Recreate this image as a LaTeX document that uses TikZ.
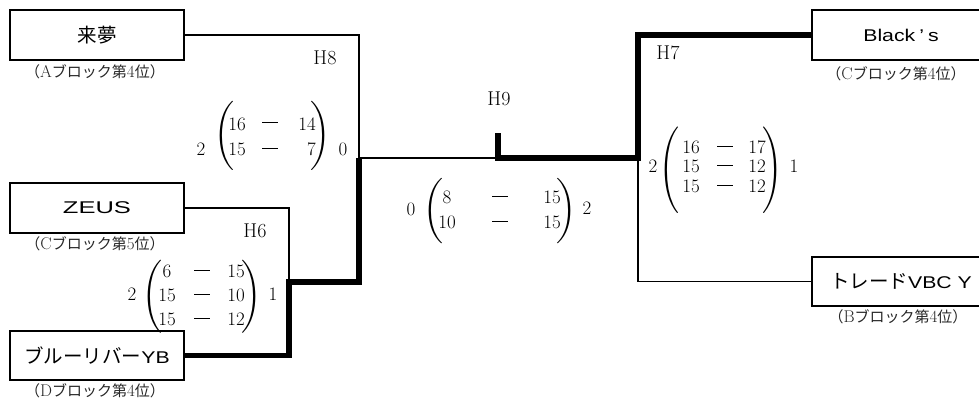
\documentclass[tikz,border=0pt]{standalone}
\usepackage{fontspec}
\usepackage{graphicx}
\newfontfamily\jp{Noto Sans CJK JP}
\newfontfamily\lsans[FakeStretch=1.25]{Liberation Sans}
\newcommand\namefont{\jp\fontsize{19.5}{21}\selectfont}
\newcommand\lat[1]{{\lsans\fontsize{17}{20}\selectfont #1}}
\newcommand\subfont{\fontsize{15}{17}\selectfont}
\newcommand\numfont{\fontsize{19}{21}\selectfont}
\newcommand\hfont{\fontsize{20}{22}\selectfont}
\newcommand\dashrule{\rule{16pt}{1pt}}
\newcommand\blk[2]{{\jp （}{\fontsize{17}{17}\selectfont #1}{\jp ブロック第}{\fontsize{17}{17}\selectfont #2}{\jp 位）}}
\newcommand\LPar[2]{\resizebox*{#1}{#2}{$\nulldelimiterspace=0pt\left(\vcenter{\hbox{\vrule height 2.5em width 0pt}}\right.$}}
\newcommand\RPar[2]{\resizebox*{#1}{#2}{$\nulldelimiterspace=0pt\left.\vcenter{\hbox{\vrule height 2.5em width 0pt}}\right)$}}
\begin{document}
\begin{tikzpicture}[x=1pt,y=-1pt,
  team/.style={draw,line width=2pt,minimum width=174pt,minimum height=49.5pt,inner sep=0pt,font=\namefont},
  teamr/.style={team,minimum width=178pt},
  sub/.style={font=\subfont,text=black!85,inner sep=0pt},
  num/.style={font=\numfont,inner sep=0pt},
  hlab/.style={font=\hfont,inner sep=0pt},
  par/.style={inner sep=0pt},
  wire/.style={line width=1.8pt,line join=miter},
  win/.style={line width=5.5pt,line join=miter}]
\clip (0,0) rectangle (979,401);
\useasboundingbox (0,0) rectangle (979,401);

% teams
\node[team] (raimu) at (97,35) {来夢};
\node[team] (zeus) at (97,208) {\scalebox{1.2}[1]{\lat{ZEUS}}};
\node[team] (blue) at (97,355.5) {ブルーリバー\lat{YB}};
\node[teamr] (blacks) at (901,35) {\lat{Black\hspace{4pt}’\hspace{4pt}s}};
\node[teamr] (trade) at (901,281.5) {トレード\lat{VBC Y}};

\node[sub] (raimuS) at (95,72) {\blk{A}{4}};
\node[sub] (zeusS) at (95,244) {\blk{C}{5}};
\node[sub] (blueS) at (95,391) {\blk{D}{4}};
\node[sub] (blacksS) at (896,74) {\blk{C}{4}};
\node[sub] (tradeS) at (898,317) {\blk{B}{4}};

% junctions
\coordinate (j8) at (359,158);
\coordinate (j6) at (289,282);
\coordinate (j9) at (498,133);
\coordinate (j7) at (638,158);

% connectors
\draw[wire] (raimu.east) -| (j8);
\draw[wire] (zeus.east) -| (j6);
\draw[wire] (j8) -- (j7);
\draw[wire] (j7) |- (trade.west);
\draw[win] (blue.east) -| (j6) -| (j8);
\draw[win] (j9) |- (j7) |- (blacks.west);

% round labels
\node[hlab] (H8) at (325,58) {H8};
\node[hlab] (H6) at (255,231) {H6};
\node[hlab] (H9) at (499,99) {H9};
\node[hlab] (H7) at (668,53) {H7};

% H8 score
\node[num] (h8s1) at (201,149) {2};
\node[par] (h8l) at (224,136) {\LPar{20pt}{72pt}};
\node[num] (h8a) at (237,124) {16};
\node[num] (h8b) at (270,123) {\dashrule};
\node[num,anchor=east] (h8c) at (316,124) {14};
\node[num] (h8d) at (237,149) {15};
\node[num] (h8e) at (270,148) {\dashrule};
\node[num,anchor=east] (h8f) at (316,149) {7};
\node[par] (h8r) at (320,136) {\RPar{20pt}{72pt}};
\node[num] (h8s2) at (343,149) {0};

% H6 score
\node[num] (h6s1) at (132,294) {2};
\node[par] (h6l) at (152,297) {\LPar{20pt}{76pt}};
\node[num] (h6a) at (167,271) {6};
\node[num] (h6b) at (202,270) {\dashrule};
\node[num] (h6c) at (236,271) {15};
\node[num] (h6d) at (167,295) {15};
\node[num] (h6e) at (202,294) {\dashrule};
\node[num] (h6f) at (236,295) {10};
\node[num] (h6g) at (167,319) {15};
\node[num] (h6h) at (202,318) {\dashrule};
\node[num] (h6i) at (236,319) {12};
\node[par] (h6r) at (251.5,297) {\RPar{20pt}{76pt}};
\node[num] (h6s2) at (273,294) {1};

% H9 score
\node[num] (h9s1) at (411,209) {0};
\node[par] (h9l) at (433.5,211) {\LPar{20pt}{68pt}};
\node[num] (h9a) at (447,197) {8};
\node[num] (h9b) at (500,196) {\dashrule};
\node[num] (h9c) at (552,197) {15};
\node[num] (h9d) at (447,222) {10};
\node[num] (h9e) at (500,221) {\dashrule};
\node[num] (h9f) at (552,222) {15};
\node[par] (h9r) at (566,211) {\RPar{20pt}{68pt}};
\node[num] (h9s2) at (587,208) {2};

% H7 score
\node[num] (h7s1) at (653,166) {2};
\node[par] (h7l) at (669.5,170) {\LPar{20pt}{90pt}};
\node[num] (h7a) at (691,147) {16};
\node[num] (h7b) at (725,146) {\dashrule};
\node[num] (h7c) at (757,147) {17};
\node[num] (h7d) at (691,166) {15};
\node[num] (h7e) at (725,165) {\dashrule};
\node[num] (h7f) at (757,166) {12};
\node[num] (h7g) at (691,186) {15};
\node[num] (h7h) at (725,185) {\dashrule};
\node[num] (h7i) at (757,186) {12};
\node[par] (h7r) at (772,170) {\RPar{20pt}{90pt}};
\node[num] (h7s2) at (794,166) {1};
\end{tikzpicture}
\end{document}
